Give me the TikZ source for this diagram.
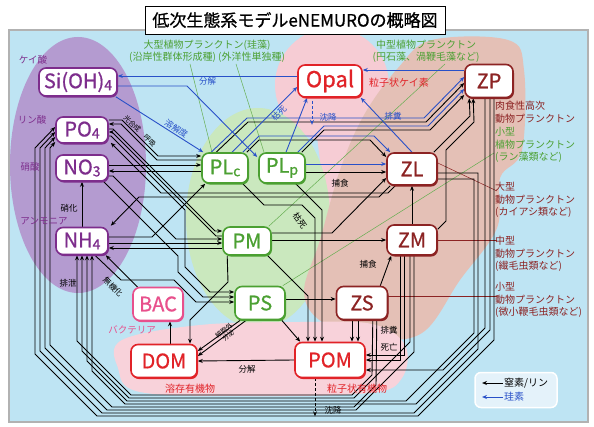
\documentclass[tikz,border=0pt]{standalone}
\usepackage{fontspec}
\setmainfont{Noto Sans CJK JP}
\newfontfamily\nf[FakeBold=0.8]{Noto Sans CJK JP}
\usetikzlibrary{arrows.meta,calc,shadows}
\pgfdeclarelayer{bg}
\pgfdeclarelayer{fg}
\pgfsetlayers{bg,main,fg}
\definecolor{bgblue}{RGB}{190,228,243}
\definecolor{purpreg}{RGB}{180,155,208}
\definecolor{greenreg}{RGB}{202,232,190}
\definecolor{opalpink}{RGB}{246,204,212}
\definecolor{tanreg}{RGB}{228,192,182}
\definecolor{dompink}{RGB}{248,210,218}
\definecolor{purp}{RGB}{125,45,140}
\definecolor{grn}{RGB}{75,160,50}
\definecolor{zred}{RGB}{140,35,35}
\definecolor{redc}{RGB}{225,35,40}
\definecolor{bacp}{RGB}{232,80,140}
\definecolor{blu}{RGB}{40,80,200}
\definecolor{legbg}{RGB}{228,242,250}
\newcommand\sbs[1]{\raisebox{-0.1em}{\fontsize{14}{14}\selectfont #1}}
\begin{document}
\begin{tikzpicture}[x=1pt,y=-1pt,
  box/.style={rounded corners=7pt, line width=1.6pt, fill=white, inner sep=0pt, font=\nf\fontsize{20}{22}\selectfont},
  nut/.style={box, draw=purp, text=purp, drop shadow={shadow xshift=1pt,shadow yshift=-1.6pt,fill=purp,opacity=1}},
  phy/.style={box, draw=grn, text=grn, drop shadow={shadow xshift=1pt,shadow yshift=-1.6pt,fill=grn,opacity=1}},
  zoo/.style={box, draw=zred, text=zred, drop shadow={shadow xshift=1pt,shadow yshift=-1.6pt,fill=zred,opacity=1}},
  det/.style={box, draw=redc, text=redc, drop shadow={shadow xshift=1pt,shadow yshift=-1.6pt,fill=redc,opacity=1}},
  bacs/.style={box, draw=bacp, text=bacp, drop shadow={shadow xshift=1pt,shadow yshift=-1.6pt,fill=bacp,opacity=1}},
  ln/.style={line width=0.9pt, -{Stealth[length=5pt,width=4pt]}},
  bk/.style={ln, draw=black},
  bl/.style={ln, draw=blu},
  lab/.style={font=\fontsize{8.5}{10}\selectfont, inner sep=1pt},
  plab/.style={font=\fontsize{9.5}{11}\selectfont, text=purp, inner sep=0pt},
  sideg/.style={font=\fontsize{10}{12.5}\selectfont, text=grn, align=left, anchor=north west, inner sep=0pt},
  sidez/.style={font=\fontsize{10}{12.5}\selectfont, text=zred, align=left, anchor=north west, inner sep=0pt},
  gthin/.style={draw=grn!85, line width=0.5pt},
  rthin/.style={draw=zred, line width=0.5pt}
]
\useasboundingbox (0,0) rectangle (594,427);
% ---------------- background
\begin{pgfonlayer}{bg}
\fill[white] (0,0) rectangle (594,427);
\fill[bgblue] (9,30) rectangle (588,422);
\begin{scope}
\clip (9,30) rectangle (588,422);
\fill[purpreg] (78,165) ellipse [x radius=68pt, y radius=128pt];
\fill[opalpink] (332,85) circle [radius=57pt];
\fill[opalpink] (316,128) -- (354,122) -- (350,272) -- (334,276) -- cycle;
\fill[greenreg] (258,218) ellipse [x radius=72pt, y radius=110pt];
\fill[tanreg] plot[smooth cycle, tension=0.6] coordinates {(432,40) (508,40) (524,70) (522,150) (500,178) (497,228) (460,280) (422,333) (370,338) (322,322) (304,292) (320,240) (340,170) (364,115) (398,68)};
\fill[dompink] plot[smooth cycle, tension=0.6] coordinates {(122,340) (200,325) (300,322) (372,324) (405,345) (402,378) (370,393) (250,396) (140,392) (118,368)};
\end{scope}
\draw[gray!60, line width=1.5pt] (9,30) rectangle (588,422);
\end{pgfonlayer}
% ---------------- nodes
\begin{pgfonlayer}{fg}
\node[draw=black, fill=white, line width=0.8pt, minimum width=300pt, minimum height=28pt, inner sep=0pt, font=\nf\fontsize{17}{20}\selectfont, drop shadow={shadow xshift=1.2pt,shadow yshift=-1.2pt,fill=gray,opacity=1}] (title) at (295,20) {低次生態系モデルeNEMUROの概略図};
\node[nut, minimum width=78pt, minimum height=28pt] (si) at (78,82) {Si(OH)\sbs{4}};
\node[nut, minimum width=52pt, minimum height=26pt] (po4) at (82,130) {PO\sbs{4}};
\node[nut, minimum width=52pt, minimum height=26pt] (no3) at (82,168) {NO\sbs{3}};
\node[nut, minimum width=52pt, minimum height=27pt] (nh4) at (82,241) {NH\sbs{4}};
\node[phy, minimum width=46pt, minimum height=30pt] (plc) at (225,168) {PL\sbs{c}};
\node[phy, minimum width=46pt, minimum height=30pt] (plp) at (282,168) {PL\sbs{p}};
\node[phy, minimum width=48pt, minimum height=28pt] (pm) at (247,241) {PM};
\node[phy, minimum width=50pt, minimum height=33pt] (ps) at (260,303) {PS};
\node[bacs, minimum width=50pt, minimum height=33pt] (bac) at (158,304) {BAC};
\node[det, minimum width=66pt, minimum height=33pt] (dom) at (164,361) {DOM};
\node[det, minimum width=70pt, minimum height=35pt] (pom) at (330,360) {POM};
\node[zoo, minimum width=51pt, minimum height=33pt] (zs) at (362,303) {ZS};
\node[zoo, minimum width=50pt, minimum height=30pt] (zm) at (412,240) {ZM};
\node[zoo, minimum width=50pt, minimum height=32pt] (zl) at (412,169) {ZL};
\node[det, minimum width=64pt, minimum height=32pt, font=\nf\fontsize{22}{24}\selectfont] (opal) at (330,81) {Opal};
\node[zoo, minimum width=48pt, minimum height=33pt] (zp) at (489,81) {ZP};
% legend
\node[draw=white, line width=1.5pt, fill=legbg, rounded corners=6pt, minimum width=82pt, minimum height=35pt] (leg) at (516,390) {};
\node[lab, font=\fontsize{10}{12}\selectfont, anchor=west] (lt1) at (503,383) {窒素/リン};
\node[lab, font=\fontsize{10}{12}\selectfont, anchor=west, text=blu] (lt2) at (503,397) {珪素};
\coordinate (la1) at (482,383);
\coordinate (la2) at (482,397);
\draw[bk] (lt1.west) -- (la1);
\draw[bl] (lt2.west) -- (la2);
\end{pgfonlayer}
% ---------------- thin label connectors
\coordinate (g1) at (190,64);
\coordinate (g2) at (236,64);
\coordinate (g3) at (445,64);
\coordinate (g4) at (494,153);
\coordinate (r1) at (497,191);
\coordinate (r2) at (497,240);
\coordinate (r3) at (497,296);
\draw[gthin] (g1) -- ($(plc.north)+(-13,0)$);
\draw[gthin] (g2) -- ($(plp.north)+(-18,0)$);
\draw[gthin] (g3) -- ($(pm.north east)+(-3,0)$);
\draw[gthin] (g4) -- ($(ps.north east)+(-3,0)$);
\draw[rthin] ($(zl.east)+(0,-6)$) -- (r1);
\draw[rthin] (zm.east) -- (r2);
\draw[rthin] ($(zs.east)+(0,-7)$) -- (r3);
% ---------------- nutrients <-> phytoplankton
\draw[bk] ($(no3.east)+(0,-3)$) -- ($(plc.west)+(0,-3)$);
\draw[bk] ($(plc.west)+(0,3)$) -- ($(no3.east)+(0,3)$);
\draw[bk] (nh4.north) -- (no3.south);
\draw[bk] ($(po4.east)+(0,-10)$) -- (122,120) -- node[lab,sloped,above,pos=0.4,font=\fontsize{7}{8}\selectfont]{光合成　呼吸} (158,156) -- ($(plc.west)+(0,-12)$);
\draw[bk] ($(plc.west)+(0,-8)$) -- (157,160) -- (121,124) -- ($(po4.east)+(0,-6)$);
\draw[bk] ($(po4.east)+(0,-1)$) -- (113,129) -- (215,231) -- ($(pm.west)+(0,-10)$);
\draw[bk] ($(pm.west)+(0,-5)$) -- (216,236) -- (112,132) -- ($(po4.east)+(0,2)$);
\draw[bk] ($(po4.east)+(0,6)$) -- (111,136) -- (185,210) -- (185,267) -- (210,292) -- ($(ps.west)+(0,-11)$);
\draw[bk] ($(no3.east)+(0,8)$) -- (113,176) -- (176,239) -- ($(pm.west)+(0,-2)$);
\draw[bk] ($(no3.south east)+(-5,0)$) -- (178,256) -- (178,272) -- (203,297) -- ($(ps.west)+(0,-6)$);
\draw[bk] ($(nh4.east)+(0,2)$) -- ($(pm.west)+(0,2)$);
\draw[bk] ($(pm.west)+(0,7)$) -- ($(nh4.east)+(0,7)$);
\draw[bk] ($(nh4.south)+(13,0)$) -- (121,280) -- (174,280) -- (196,302) -- ($(ps.west)+(0,-1)$);
\draw[bk] ($(nh4.east)+(0,-4)$) -- (152,237) -- ($(plc.south west)+(4,0)$);
% ---------------- phytoplankton -> zooplankton
\draw[bk] ($(plp.east)+(0,4)$) -- ($(zl.west)+(0,3)$);
\draw[bl] ($(plp.east)+(0,-4)$) -- ($(zl.west)+(0,-5)$);
\draw[bk] ($(plc.north east)+(-2,0)$) -- (259,140) -- (370,140) -- ($(zl.west)+(0,-12)$);
\draw[bl] ($(plc.north east)+(-6,0)$) -- (259,136) -- (374,136) -- ($(zl.north west)+(4,0)$);
\draw[bl] ($(plc.north west)+(10,0)$) -- (247,118) -- (424,118) -- ($(zp.west)+(0,-4)$);
\draw[bk] ($(plc.north west)+(15,0)$) -- (248,122) -- (426,122) -- ($(zp.west)+(0,2)$);
\draw[bl] ($(plp.north east)+(-8,0)$) -- (324,126) -- (428,126) -- ($(zp.west)+(0,8)$);
\draw[bk] ($(plp.north east)+(-4,0)$) -- (324,130) -- (430,130) -- ($(zp.west)+(0,14)$);
\draw[bk] ($(pm.east)+(0,-1)$) -- (zm.west);
\draw[bk] ($(pm.east)+(0,-8)$) -- (332,233) -- ($(zl.west)+(0,9)$);
\draw[bk] ($(ps.east)+(0,-4)$) -- ($(zs.west)+(0,-4)$);
\draw[bk] ($(zs.north east)+(-8,0)$) -- ($(zm.south west)+(5,0)$);
\draw[bk] (zm.north) -- (zl.south);
\draw[bk] ($(zl.north east)+(-4,0)$) -- (470,116) -- ($(zp.south west)+(5,0)$);
\draw[bk] ($(zm.north east)+(0,5)$) -- (446,221) -- (446,150) -- (474,122) -- ($(zp.south west)+(9,0)$);
% ---------------- to POM
\draw[bk] ($(plp.south east)+(-10,0)$) -- (322,210) -- ($(pom.north)+(-8,0)$);
\draw[bk] ($(plc.south east)+(-6,0)$) -- (264,205) -- (302,205) -- (315,218) -- ($(pom.north)+(-15,0)$);
\draw[bk] ($(pm.south east)+(-4,0)$) -- (308,296) -- ($(pom.north)+(-22,0)$);
\draw[bk] ($(ps.south east)+(-4,0)$) -- ($(pom.north west)+(6,0)$);
\draw[bk] ($(zs.south)+(-10,0)$) -- ($(pom.north)+(22,0)$);
\draw[bk] ($(zs.south)+(-4,0)$) -- ($(pom.north)+(28,0)$);
\draw[bk] ($(zm.south)+(-8,0)$) -- (404,355) -- ($(pom.east)+(0,-5)$);
\draw[bk] ($(zm.south)+(-12,0)$) -- (400,360) -- (pom.east);
\draw[bk] ($(zp.south)+(-4,0)$) -- (485,328) -- (443,370) -- ($(pom.east)+(0,10)$);
% ---------------- excretion loops to PO4
\draw[bk] ($(zp.south)+(5,0)$) -- (494,340) -- (418,416) -- (97,416) -- (35,354) -- (35,148) -- ($(po4.west)+(0,-3)$);
\draw[bk] ($(zl.east)+(0,4)$) -- (478,173) -- (478,349) -- (414,413) -- (102,413) -- (40,351) -- (40,148) -- ($(po4.west)+(0,2)$);
\draw[bk] ($(zm.south)+(2,0)$) -- (414,352) -- (356,410) -- (107,410) -- (45,348) -- (45,148) -- ($(po4.west)+(0,7)$);
\draw[bk] ($(zs.south east)+(-11.5,0)$) -- (376,385) -- (354,407) -- (112,407) -- (50,345) -- (50,148) -- ($(po4.west)+(0,12)$);
% ---------------- excretion loops to NH4
\draw[bk] ($(zp.south)+(1,0)$) -- (490,330) -- (416,404) -- (125,404) -- (92,371) -- ($(nh4.south)+(10,0)$);
\draw[bk] ($(zl.east)+(0,10)$) -- (474,179) -- (474,333) -- (406,401) -- (127,401) -- (87,361) -- ($(nh4.south)+(5,0)$);
\draw[bk] ($(zm.south)+(-2,0)$) -- (410,342) -- (354,398) -- (129,398) -- (82,351) -- (nh4.south);
\draw[bk] ($(zs.south east)+(-15.5,0)$) -- (372,375) -- (352,395) -- (131,395) -- (77,341) -- ($(nh4.south)+(-5,0)$);
% ---------------- ZL excretion along the middle
\draw[bk] ($(zl.south west)+(4,0)$) -- (379,197) -- (139,197) -- ($(nh4.north east)+(2,-1)$);
\draw[bk] ($(zl.south west)+(9,0)$) -- (388,193) -- (161,193) -- ($(po4.south east)+(2,-1)$);
% ---------------- DOM / BAC
\draw[bk] ($(dom.north)+(6,0)$) -- ($(bac.south)+(12,0)$);
\draw[bk] ($(bac.north west)+(6,1)$) -- ($(nh4.south east)+(-3,0)$);
\draw[bk] (pom.west) -- (dom.east);
\draw[bk] ($(ps.south west)+(6,0)$) -- ($(dom.east)+(0,-10)$);
\draw[bk] ($(ps.south west)+(12,0)$) -- ($(dom.east)+(0,-5)$);
\draw[bk] ($(pm.south west)+(5,0)$) -- (228,282) -- (190,320) -- ($(dom.north)+(26,0)$);
\draw[bk, densely dashed] ($(pom.south)+(-15,0)$) -- ($(pom.south)+(-15,38)$);
% ---------------- silicon (blue)
\draw[bl] ($(opal.west)+(0,-5)$) -- node[lab,below,text=blu]{分解} ($(si.east)+(0,-6)$);
\draw[bl] ($(zp.west)+(0,-11)$) -- ($(opal.east)+(0,-11)$);
\draw[bl] ($(si.south east)+(-2,0)$) -- node[lab,sloped,above,pos=0.66,text=blu]{溶解度} ($(plc.north west)+(2,0)$);
\draw[bl] ($(si.east)+(0,4)$) -- (187,86) -- ($(plp.west)+(-1,-11)$);
\draw[bl] ($(plc.north)+(7,0)$) -- node[lab,sloped,below,pos=0.66,text=blu]{枯死} ($(opal.west)+(0,6)$);
\draw[bl] ($(plp.north)+(4,0)$) -- ($(opal.south west)+(10,0)$);
\draw[bl] (zl.north) -- ($(opal.south east)+(-2,0)$);
\draw[bl, densely dashed] ($(opal.south)+(-18,3)$) -- ($(opal.south)+(-18,27)$);
% ---------------- labels
\node[plab] at (33,60) {ケイ酸};
\node[plab] at (32,120) {リン酸};
\node[plab] at (30,167) {硝酸};
\node[plab] at (44,221) {アンモニア};
\node[lab] at (69,208) {硝化};
\node[lab] at (68,283) {排泄};
\node[lab, rotate=-45, font=\fontsize{8}{9}\selectfont] at (113,287) {無機化};
\node[lab, text=bacp, font=\fontsize{9.5}{11}\selectfont] at (132,330) {バクテリア};
\node[lab, text=redc, font=\fontsize{10}{11}\selectfont] at (190,389) {溶存有機物};
\node[lab] at (247,369) {分解};
\node[lab, rotate=38, align=center, font=\fontsize{6.5}{7}\selectfont] at (226,333) {細胞外\\分泌};
\node[lab, text=redc, font=\fontsize{10}{11}\selectfont] at (357,389) {粒子状有機物};
\node[lab] at (333,410) {沈降};
\node[lab] at (389,330) {排糞};
\node[lab] at (389,347) {死亡};
\node[lab] at (340,183) {捕食};
\node[lab] at (368,264) {捕食};
\node[lab, rotate=-55] at (300,221) {枯死};
\node[lab, text=blu] at (393,116) {排糞};
\node[lab, text=blu] at (328,117) {沈降};
\node[lab, text=redc, font=\fontsize{10}{11}\selectfont] at (399,83) {粒子状ケイ素};
\node[lab, text=grn, font=\fontsize{10}{12}\selectfont, align=center] at (207,51) {大型植物プランクトン(珪藻)\\(沿岸性群体形成種) (外洋性単独種)};
\node[lab, text=grn, font=\fontsize{10}{12}\selectfont, align=center] at (426,51) {中型植物プランクトン\\(円石藻、渦鞭毛藻など)};
\node[sidez] at (495,101) {肉食性高次\\動物プランクトン};
\node[sideg] at (495,127) {小型\\植物プランクトン\\(ラン藻類など)};
\node[sidez] at (495,182) {大型\\動物プランクトン\\(カイアシ類など)};
\node[sidez] at (495,236) {中型\\動物プランクトン\\(繊毛虫類など)};
\node[sidez] at (495,282) {小型\\動物プランクトン\\(微小鞭毛虫類など)};
\end{tikzpicture}
\end{document}
